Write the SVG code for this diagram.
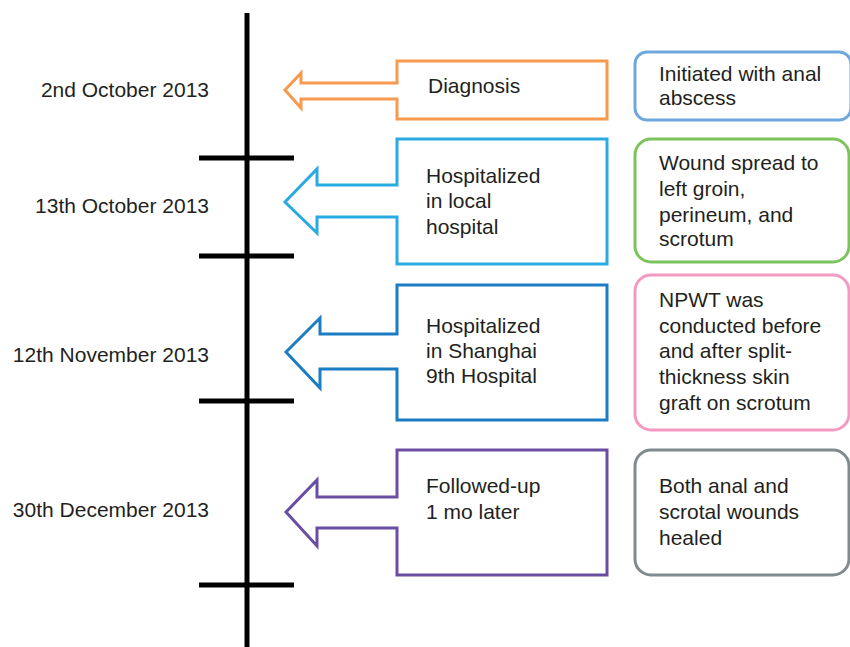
<svg xmlns="http://www.w3.org/2000/svg" width="850" height="647" viewBox="0 0 850 647">
<style>
text{font-family:"Liberation Sans",Arial,sans-serif;font-size:21px;fill:#231f20}
.date{text-anchor:end}
.arrow{fill:#fff;stroke-width:3;stroke-linejoin:miter}
.note{fill:#fff;stroke-width:3}
.axis{stroke:#000;stroke-width:5;fill:none}
</style>
<rect width="850" height="647" fill="#fff"/>
<g id="connectors">
<line class="axis" x1="247" y1="13" x2="247" y2="647"/>
<line class="axis" x1="199" y1="158" x2="294" y2="158"/>
<line class="axis" x1="199" y1="256" x2="294" y2="256"/>
<line class="axis" x1="199" y1="401" x2="294" y2="401"/>
<line class="axis" x1="199" y1="585" x2="294" y2="585"/>
</g>
<g id="dates">
<text class="date" x="209" y="97">2nd October 2013</text>
<text class="date" x="209" y="213">13th October 2013</text>
<text class="date" x="209" y="362">12th November 2013</text>
<text class="date" x="209" y="517">30th December 2013</text>
</g>
<g id="event1">
<path class="arrow" stroke="#f79a4f" d="M607 61 H397 V83 H301 V73 L285 90 L301 108 V99 H397 V119 H607 Z"/>
<text x="428" y="93">Diagnosis</text>
</g>
<g id="event2">
<path class="arrow" stroke="#29abe2" d="M607 139 H397 V185 H317 V169 L285 202 L317 233 V217 H397 V264 H607 Z"/>
<text x="426" y="183">Hospitalized</text>
<text x="426" y="208">in local</text>
<text x="426" y="234">hospital</text>
</g>
<g id="event3">
<path class="arrow" stroke="#1b7dc3" d="M607 285 H397 V334 H320 V318 L286 352 L320 388 V369 H397 V420 H607 Z"/>
<text x="426" y="333">Hospitalized</text>
<text x="426" y="358">in Shanghai</text>
<text x="426" y="383">9th Hospital</text>
</g>
<g id="event4">
<path class="arrow" stroke="#6a4ea3" d="M607 450 H397 V497 H317 V480 L286 512 L317 546 V528 H397 V575 H607 Z"/>
<text x="426" y="493">Followed-up</text>
<text x="426" y="519">1 mo later</text>
</g>
<g id="note1">
<rect class="note" stroke="#6fa8de" x="635" y="52" width="216" height="68" rx="12"/>
<text x="659" y="81">Initiated with anal</text>
<text x="659" y="105">abscess</text>
</g>
<g id="note2">
<rect class="note" stroke="#7cc35e" x="635" y="139" width="214" height="123" rx="16"/>
<text x="659" y="170">Wound spread to</text>
<text x="659" y="196">left groin,</text>
<text x="659" y="222">perineum, and</text>
<text x="659" y="246">scrotum</text>
</g>
<g id="note3">
<rect class="note" stroke="#f49ac2" x="635" y="275" width="214" height="155" rx="16"/>
<text x="659" y="307">NPWT was</text>
<text x="659" y="333">conducted before</text>
<text x="659" y="358">and after split-</text>
<text x="659" y="384">thickness skin</text>
<text x="659" y="410">graft on scrotum</text>
</g>
<g id="note4">
<rect class="note" stroke="#808b8f" x="635" y="450" width="214" height="125" rx="16"/>
<text x="659" y="493">Both anal and</text>
<text x="659" y="519">scrotal wounds</text>
<text x="659" y="545">healed</text>
</g>
</svg>
